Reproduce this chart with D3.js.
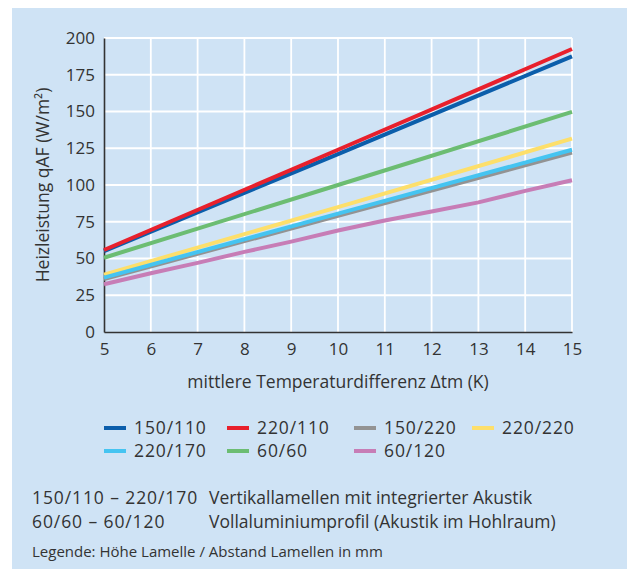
<!DOCTYPE html>
<html>
<head>
<meta charset="utf-8">
<script src="https://cdn.jsdelivr.net/npm/d3@7"></script>
<style>
  html, body { margin: 0; padding: 0; background: #fff; }
  svg { display: block; }
  text { font-family: "Open Sans", "Noto Sans", sans-serif; fill: #333; }
</style>
</head>
<body>
<script>
// ---- data ----
const xTicks = [5, 6, 7, 8, 9, 10, 11, 12, 13, 14, 15];
const yTicks = [0, 25, 50, 75, 100, 125, 150, 175, 200];
const seriesNames = ["150/110", "220/110", "150/220", "220/220", "220/170", "60/60", "60/120"];
const seriesColors = ["#0b5eab", "#e8202c", "#939393", "#fddf6b", "#45c4f1", "#6cbd72", "#c77db6"];
const dt = [5, 10, 15];
const v150_110 = [55, 121, 187.5];
const v220_110 = [55.8, 124, 192.5];
const v150_220 = [36, 79, 122];
const v220_220 = [39, 85, 131.5];
const v220_170 = [37, 80.5, 124];
const v60_60 = [50.5, 100, 149.7];
const dt120 = [5, 6, 7, 8, 9, 10, 11, 12, 13, 14, 15];
const v60_120 = [32.5, 40, 47, 54.5, 61.5, 69, 75.8, 82, 88.2, 96, 103.2];
const drawOrder = [6, 2, 3, 4, 5, 0, 1];
const noteRows = [
  ["150/110 – 220/170", "Vertikallamellen mit integrierter Akustik"],
  ["60/60 – 60/120", "Vollaluminiumprofil (Akustik im Hohlraum)"]
];
const footnote = "Legende: Höhe Lamelle / Abstand Lamellen in mm";

const seriesData = [
  dt.map((d, i) => [d, v150_110[i]]),
  dt.map((d, i) => [d, v220_110[i]]),
  dt.map((d, i) => [d, v150_220[i]]),
  dt.map((d, i) => [d, v220_220[i]]),
  dt.map((d, i) => [d, v220_170[i]]),
  dt.map((d, i) => [d, v60_60[i]]),
  dt120.map((d, i) => [d, v60_120[i]])
];

// ---- drawing ----
const W = 627, H = 569;
const svg = d3.select("body").append("svg").attr("width", W).attr("height", H);
svg.append("rect").attr("x", 12).attr("y", 8).attr("width", W - 12).attr("height", H - 8).attr("fill", "#cfe3f5");

const x = d3.scaleLinear().domain([5, 15]).range([104, 572]);
const y = d3.scaleLinear().domain([0, 200]).range([332, 38]);

// grid
const g = svg.append("g");
g.selectAll(".vg").data(xTicks.slice(1)).join("line")
  .attr("x1", d => x(d)).attr("x2", d => x(d)).attr("y1", y(200)).attr("y2", y(0))
  .attr("stroke", "#fff").attr("stroke-width", 1.8);
g.selectAll(".hg").data(yTicks.slice(1)).join("line")
  .attr("x1", x(5)).attr("x2", x(15)).attr("y1", d => y(d)).attr("y2", d => y(d))
  .attr("stroke", "#fff").attr("stroke-width", 1.8);

// axes
const yAxis = d3.axisLeft(y).tickValues(yTicks).tickSize(0).tickPadding(9);
const gy = svg.append("g").attr("transform", `translate(${x(5)},0)`).call(yAxis);
gy.select(".domain").attr("stroke", "#333").attr("stroke-width", 1.6);
gy.selectAll("text").style("font-size", "17px").attr("fill", "#333").style("font-family", "'Open Sans', sans-serif");

const xAxis = d3.axisBottom(x).tickValues(xTicks).tickSize(0).tickPadding(11);
const gx = svg.append("g").attr("transform", `translate(0,${y(0)})`).call(xAxis);
gx.select(".domain").attr("stroke", "#333").attr("stroke-width", 1.6);
gx.selectAll("text").style("font-size", "17px").attr("fill", "#333").style("font-family", "'Open Sans', sans-serif");

// lines
const line = d3.line().x(d => x(d[0])).y(d => y(d[1]));
drawOrder.forEach(i => {
  svg.append("path").datum(seriesData[i]).attr("d", line)
    .attr("fill", "none").attr("stroke", seriesColors[i]).attr("stroke-width", 4);
});

// axis titles
svg.append("text").attr("x", 338).attr("y", 388).attr("text-anchor", "middle")
  .style("font-size", "17.5px").text("mittlere Temperaturdifferenz Δtm (K)");
svg.append("text").attr("transform", "translate(49,185) rotate(-90)").attr("text-anchor", "middle")
  .style("font-size", "17.5px").text("Heizleistung qAF (W/m²)");

// legend
const legX = [104, 227, 354, 472];
const legY = [428, 451];
seriesNames.forEach((n, i) => {
  const cx = legX[i % 4], cy = legY[Math.floor(i / 4)];
  svg.append("line").attr("x1", cx).attr("x2", cx + 22).attr("y1", cy).attr("y2", cy)
    .attr("stroke", seriesColors[i]).attr("stroke-width", 4);
  svg.append("text").attr("x", cx + 30).attr("y", cy + 6).style("font-size", "17.5px")
    .style("letter-spacing", "0.9px").text(n);
});

// notes
noteRows.forEach((r, i) => {
  const yy = 504 + i * 24;
  svg.append("text").attr("x", 32).attr("y", yy).style("font-size", "17.5px")
    .style("letter-spacing", "0.9px").text(r[0]);
  svg.append("text").attr("x", 209).attr("y", yy).style("font-size", "17.5px").text(r[1]);
});
svg.append("text").attr("x", 32).attr("y", 557).style("font-size", "15px").text(footnote);
</script>
</body>
</html>
